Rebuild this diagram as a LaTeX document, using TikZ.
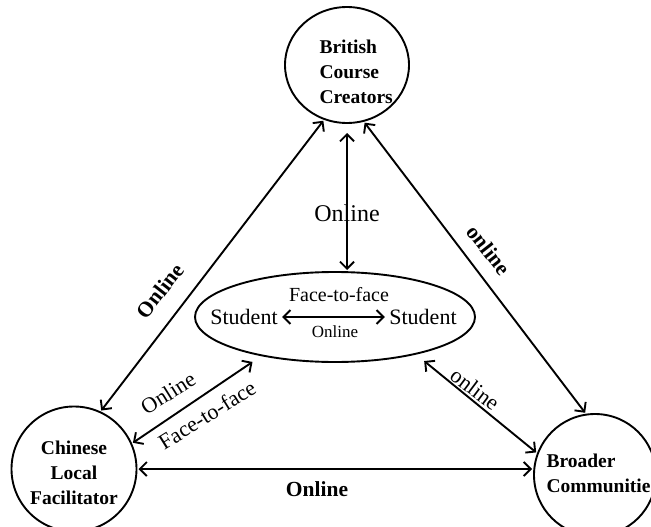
\documentclass[tikz,border=0pt]{standalone}
\usepackage{fontspec}
\setmainfont{Liberation Serif}
\usetikzlibrary{arrows.meta,shapes.geometric}

\begin{document}
\begin{tikzpicture}[x=1pt,y=-1pt,>={Straight Barb[length=7pt,width=14pt]},
  party/.style={draw,ellipse,line width=1.9pt,outer sep=2pt},
  link/.style={<->,line width=1.9pt},
  boldtxt/.style={font=\fontsize{19.5}{25}\selectfont\bfseries},
  boldlbl/.style={font=\fontsize{21.5}{25}\selectfont\bfseries},
  txt/.style={font=\fontsize{22}{25}\selectfont}]

\fill[white] (0,0) rectangle (651,527);
\useasboundingbox (0,0) rectangle (651,527);

\node[party,minimum width=124pt,minimum height=116pt] (BCC) at (347,65) {};
\node[boldtxt,align=left,anchor=west] (BCCtext) at (316,72) {British\\Course\\Creators};

\node[party,minimum width=125pt,minimum height=125pt] (CLF) at (74,469) {};
\node[boldtxt,align=center] (CLFtext) at (74,473) {Chinese\\Local\\Facilitator};

\node[party,minimum width=122pt,minimum height=122pt] (BC) at (595,475) {};
\node[boldtxt,align=left,anchor=west] (BCtext) at (543,473) {Broader\\Communities};

\node[party,minimum width=280pt,minimum height=90pt] (ST) at (335,317) {};
\node[txt] (S1) at (244,317) {Student};
\node[txt] (S2) at (423,317) {Student};
\node[font=\fontsize{20}{24}\selectfont] (F2F) at (339,295) {Face-to-face};
\node[font=\fontsize{17}{20}\selectfont] (OL) at (335,332) {Online};
\draw[link,shorten <=1pt,shorten >=1pt] (S1) -- (S2);

\draw[link,shorten <=8pt] (BCC.south) -- (BCC.south |- ST.north);
\draw[link] (BCC.247) -- (CLF.65);
\draw[link] (BCC.287) -- (BC.99);
\draw[link] (CLF.east) -- (CLF.east -| BC.west);
\draw[link,shorten >=9pt] (CLF.24) -- (ST.208);
\draw[link,shorten >=9pt] (BC.159) -- (ST.335);

\node[font=\fontsize{24}{25}\selectfont] (Lup) at (347,213) {Online};
\node[boldlbl,rotate=52] (Lleft) at (160,291) {Online};
\node[boldlbl,rotate=-52] (Lright) at (489,250) {online};
\node[boldlbl] (Lbottom) at (317,489) {Online};
\node[txt,rotate=32] (Lcs1) at (168,393) {Online};
\node[txt,rotate=32] (Lcs2) at (207,415) {Face-to-face};
\node[txt,rotate=-37] (Lbs) at (475,389) {online};

\end{tikzpicture}
\end{document}
